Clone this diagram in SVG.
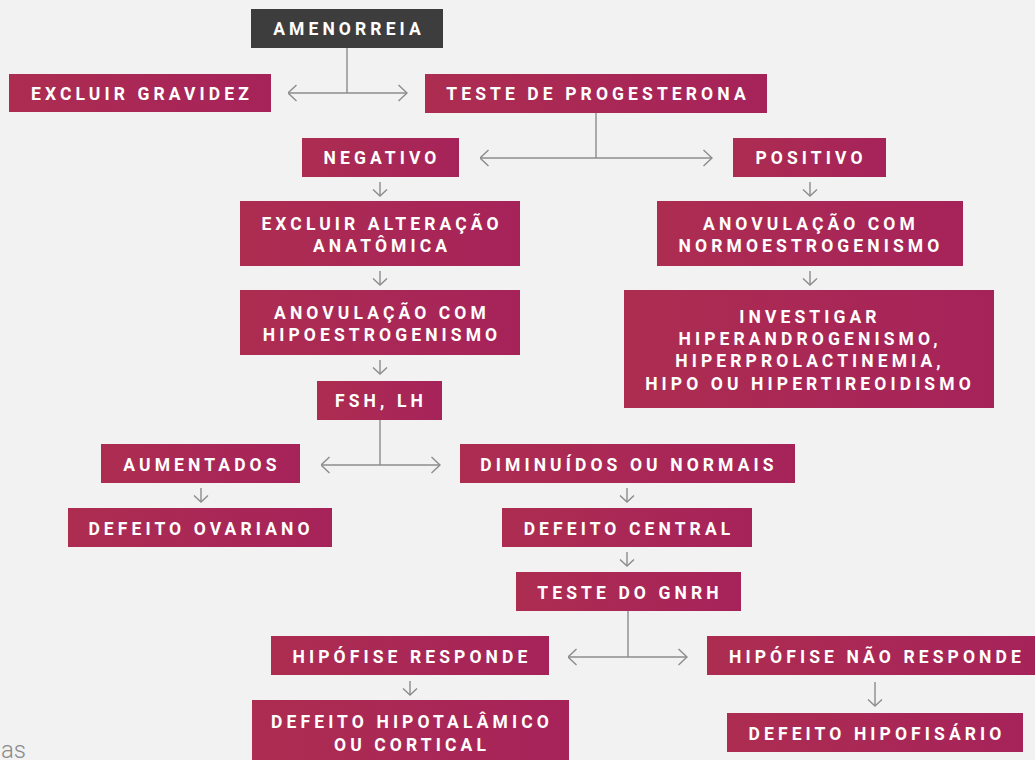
<svg xmlns="http://www.w3.org/2000/svg" width="1035" height="760" viewBox="0 0 1035 760">
<defs>
<linearGradient id="g" x1="0" y1="0" x2="1" y2="0">
<stop offset="0" stop-color="#ad2d51"/>
<stop offset="1" stop-color="#a6235a"/>
</linearGradient>
<marker id="a" viewBox="0 0 10 18" refX="9.5" refY="9" markerWidth="10" markerHeight="18" orient="auto-start-reverse" markerUnits="userSpaceOnUse">
<path d="M1,1 L9.5,9 L1,17" fill="none" stroke="#8c8c8c" stroke-width="1.4"/>
</marker>
<marker id="s" viewBox="0 0 8 16" refX="7.5" refY="8" markerWidth="8" markerHeight="16" orient="auto" markerUnits="userSpaceOnUse">
<path d="M1,1 L7.5,8 L1,15" fill="none" stroke="#8c8c8c" stroke-width="1.4"/>
</marker>
</defs>
<style>
.b{fill:url(#g)}
.d{fill:#3d3d3d}
text{font-family:Roboto,"Liberation Sans",sans-serif;font-weight:700;font-size:17.5px;letter-spacing:4.1px;fill:#ffffff;text-anchor:middle}
.c{fill:none;stroke:#8c8c8c;stroke-width:1.4}
.h{marker-start:url(#a);marker-end:url(#a)}
.v{marker-end:url(#s)}
</style>
<rect width="1035" height="760" fill="#f2f2f2"/>
<g id="connectors">
<path class="c" d="M347,48 V93"/>
<path class="c h" d="M288,93 H407"/>
<path class="c" d="M596,113 V158"/>
<path class="c h" d="M480,158 H712"/>
<path class="c v" d="M380,182 V196"/>
<path class="c v" d="M380,271 V285"/>
<path class="c v" d="M380,360 V374"/>
<path class="c v" d="M810,182 V196"/>
<path class="c v" d="M810,271 V285"/>
<path class="c" d="M380,420 V465"/>
<path class="c h" d="M321,465 H440"/>
<path class="c v" d="M201,488 V502"/>
<path class="c v" d="M627,488 V502"/>
<path class="c v" d="M627,552 V566"/>
<path class="c" d="M628,611 V657"/>
<path class="c h" d="M568,657 H687"/>
<path class="c v" d="M410,681 V695"/>
<path class="c v" d="M875,682 V706"/>
</g>
<g id="amenorreia"><rect class="d" x="251" y="9" width="192" height="39"/><text x="349" y="35">AMENORREIA</text></g>
<g id="excluir-gravidez"><rect class="b" x="9" y="74" width="262" height="38"/><text x="142" y="100">EXCLUIR GRAVIDEZ</text></g>
<g id="teste-progesterona"><rect class="b" x="425" y="74" width="342" height="39"/><text x="598" y="100">TESTE DE PROGESTERONA</text></g>
<g id="negativo"><rect class="b" x="302" y="138" width="157" height="39"/><text x="382" y="164">NEGATIVO</text></g>
<g id="positivo"><rect class="b" x="733" y="138" width="153" height="39"/><text x="811" y="164">POSITIVO</text></g>
<g id="excluir-alteracao"><rect class="b" x="240" y="201" width="280" height="65"/><text x="382" y="230">EXCLUIR ALTERAÇÃO</text><text x="382" y="252">ANATÔMICA</text></g>
<g id="anov-hipo"><rect class="b" x="240" y="290" width="280" height="65"/><text x="382" y="319">ANOVULAÇÃO COM</text><text x="382" y="341">HIPOESTROGENISMO</text></g>
<g id="fsh-lh"><rect class="b" x="317" y="381" width="125" height="39"/><text x="381" y="407">FSH, LH</text></g>
<g id="anov-normo"><rect class="b" x="657" y="201" width="306" height="65"/><text x="811" y="230">ANOVULAÇÃO COM</text><text x="811" y="252">NORMOESTROGENISMO</text></g>
<g id="investigar"><rect class="b" x="624" y="290" width="370" height="118"/><text x="810" y="323">INVESTIGAR</text><text x="810" y="345">HIPERANDROGENISMO,</text><text x="810" y="367">HIPERPROLACTINEMIA,</text><text x="810" y="390">HIPO OU HIPERTIREOIDISMO</text></g>
<g id="aumentados"><rect class="b" x="101" y="444" width="199" height="39"/><text x="202" y="471">AUMENTADOS</text></g>
<g id="diminuidos"><rect class="b" x="460" y="444" width="335" height="39"/><text x="629" y="471">DIMINUÍDOS OU NORMAIS</text></g>
<g id="defeito-ovariano"><rect class="b" x="68" y="508" width="264" height="39"/><text x="201" y="535">DEFEITO OVARIANO</text></g>
<g id="defeito-central"><rect class="b" x="502" y="508" width="250" height="39"/><text x="629" y="535">DEFEITO CENTRAL</text></g>
<g id="teste-gnrh"><rect class="b" x="516" y="572" width="225" height="39"/><text x="630" y="599">TESTE DO GNRH</text></g>
<g id="hipofise-responde"><rect class="b" x="271" y="636" width="278" height="39"/><text x="412" y="663">HIPÓFISE RESPONDE</text></g>
<g id="hipofise-nao"><rect class="b" x="707" y="636" width="328" height="39"/><text x="877" y="663">HIPÓFISE NÃO RESPONDE</text></g>
<g id="defeito-hipotalamico"><rect class="b" x="252" y="700" width="317" height="65"/><text x="412" y="728">DEFEITO HIPOTALÂMICO</text><text x="412" y="751">OU CORTICAL</text></g>
<g id="defeito-hipofisario"><rect class="b" x="727" y="713" width="296" height="39"/><text x="877" y="740">DEFEITO HIPOFISÁRIO</text></g>
<text x="1" y="758" style="font-weight:300;font-size:24px;letter-spacing:0;fill:#8a8a8a;text-anchor:start">as</text>
</svg>
